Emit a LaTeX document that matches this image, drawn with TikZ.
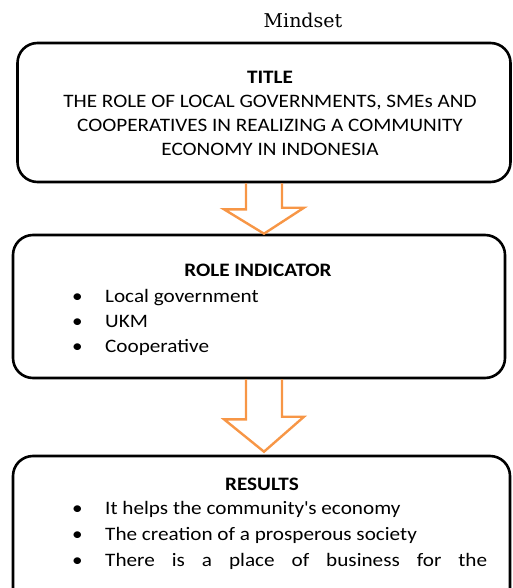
\documentclass[tikz,border=0pt]{standalone}
\usepackage{fontspec}
\setmainfont{Carlito}[FakeStretch=1.115]
\newfontfamily\capfont{DejaVu Serif}
\usepackage{tikz}
\usetikzlibrary{positioning}
\definecolor{arroworange}{RGB}{247,150,70}

\begin{document}
\begin{tikzpicture}[
  x=1pt, y=-1pt,
  panel/.style={rectangle, draw, line width=2.6pt, rounded corners=20pt,
                inner sep=0pt, align=center},
  bodyfont/.style={font=\fontsize{19}{24}\selectfont},
  heading/.style={font=\fontsize{19}{24}\selectfont\bfseries, inner sep=0pt,
                  anchor=base},
  item/.style={font=\fontsize{19}{24}\selectfont, inner sep=0pt,
               anchor=base west},
  flow/.style={draw=arroworange, line width=2.4pt},
]
  \useasboundingbox (0,0) rectangle (512,588);
  \clip (0,0) rectangle (512,588);

  % Caption
  \node[font=\capfont\fontsize{19}{22}\selectfont, inner sep=0pt, anchor=base] (caption) at (303,28) {Mindset};

  % Boxes
  \node[panel, minimum width=493, minimum height=139] (title) at (264,112.5) {};
  \node[panel, minimum width=492, minimum height=143] (role) at (259,306.5) {};
  \node[panel, minimum width=497, minimum height=170] (results) at (261.5,541) {};

  % Box contents
  \node[bodyfont, align=center, inner sep=0pt] (titletext) at (270,113)
    {\textbf{TITLE}\\THE ROLE OF LOCAL GOVERNMENTS, SMEs AND\\COOPERATIVES IN REALIZING A COMMUNITY\\ECONOMY IN INDONESIA};

  \node[heading] (rolehead) at (258,276) {ROLE INDICATOR};
  \foreach \txt [count=\i] in {Local government, UKM, Cooperative}
    \node[item] (role\i) at (72,277+25*\i) {\makebox[33pt][l]{\textbullet}\txt};

  \node[heading] (reshead) at (262,490) {RESULTS};
  \foreach \txt [count=\i] in {It helps the community\textquotesingle s economy,
                               The creation of a prosperous society,
                               {\makebox[382pt][s]{There is a place of business for the}}}
    \node[item] (res\i) at (72,488+26*\i) {\makebox[33pt][l]{\textbullet}\txt};

  % Block arrows
  \draw[flow] ([xshift=-18pt]title.south) -- ++(0,26) -- ++(-22,0)
    -- (title.south |- role.north) -- ++(40,-26) -- ++(-22,0)
    -- ([xshift=18pt]title.south);
  \draw[flow] ([xshift=-18pt]title.south |- role.south) -- ++(0,40) -- ++(-22,0)
    -- ([yshift=3pt]title.south |- results.north) -- ++(40,-35) -- ++(-22,0)
    -- ([xshift=18pt]title.south |- role.south);

\end{tikzpicture}
\end{document}
